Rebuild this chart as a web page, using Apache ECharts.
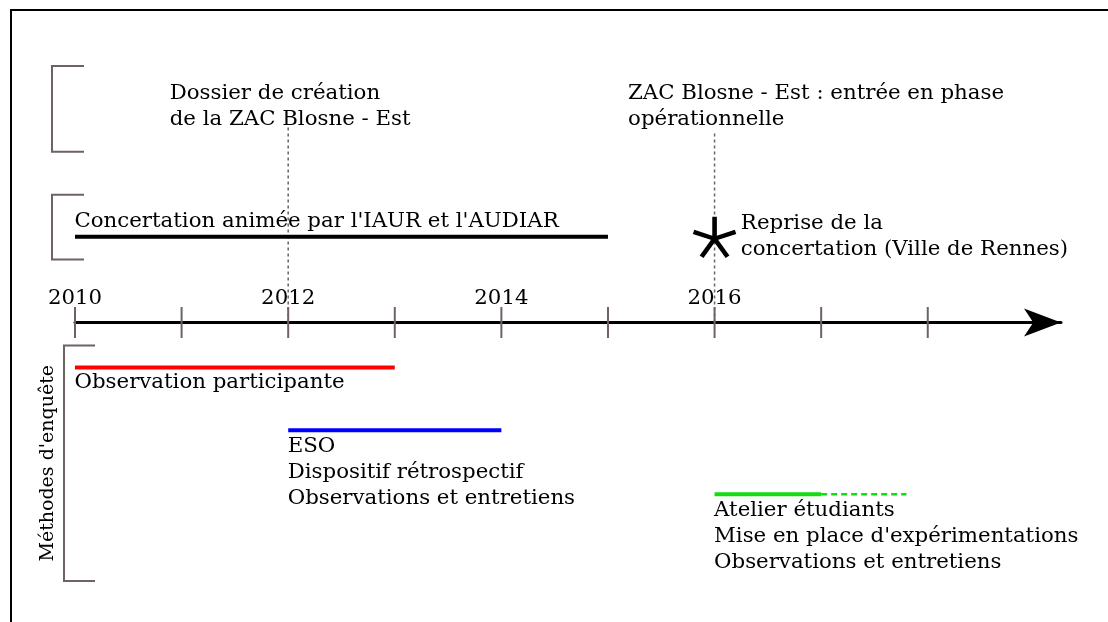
<!DOCTYPE html>
<html><head><meta charset="utf-8">
<script src="https://cdn.jsdelivr.net/npm/echarts@6/dist/echarts.min.js"></script>
<style>html,body{margin:0;padding:0;background:#fff}#c{width:1108px;height:622px}</style>
</head><body><div id="c"></div>
<script>
// ---- data ----
const tickYears = [2010, 2011, 2012, 2013, 2014, 2015, 2016, 2017, 2018];
const tickLabels = ['2010', '2012', '2014', '2016'];
const periodNames = [
  "Concertation animée par l'IAUR et l'AUDIAR",
  "Observation participante",
  "ESO\nDispositif rétrospectif\nObservations et entretiens",
  "Atelier étudiants\nMise en place d'expérimentations\nObservations et entretiens"
];
const periodStart = [2010, 2010, 2012, 2016];
const periodEnd = [2015, 2013, 2014, 2017];
const periodExtensionEnd = [null, null, null, 2017.8];
const eventYears = [2012, 2016];
const eventNames = ["Dossier de création\nde la ZAC Blosne - Est", "ZAC Blosne - Est : entrée en phase\nopérationnelle"];
const markerYears = [2016];
const markerNames = ["Reprise de la\nconcertation (Ville de Rennes)"];
const groupNames = ["", "", "Méthodes d'enquête"];

// ---- layout (vertical lanes, in axis units) & styles ----
const layout = {
  periodLane: [8.6, -4.5, -10.8, -17.2],
  eventTop: [19.7, 19.1],
  markerLane: [8.6],
  groupSpan: [[25.7, 17.1], [12.8, 6.3], [-2.3, -25.9]],
  groupDx: [[-23, 9], [-23, 9], [-11, 20]],
  periodLabelPos: [[0, -28], [0, 3], [0, 4], [0, 4]],
  eventLabelPos: [[-118, -45], [-86, -51]]
};
const periodColors = ['#000000', '#ff0000', '#0000ff', '#11dd11'];
const periodWidth = [4, 4, 4, 4];
const gray = '#6e6262';
const textColor = '#000000';
const font = 'DejaVu Serif';
const fs = 21.3;
const clear = { color: 'rgba(0,0,0,0)', opacity: 1 };

function starPath() {
  let d = '';
  for (let k = 0; k < 5; k++) {
    const a = -Math.PI / 2 + k * 2 * Math.PI / 5;
    d += 'M0 0 L' + (Math.cos(a) * 10).toFixed(3) + ' ' + (Math.sin(a) * 10).toFixed(3) + ' ';
  }
  return 'path://' + d;
}

const series = [];
// ticks
series.push({
  type: 'scatter', symbol: 'rect', symbolSize: [2, 31], z: 3, silent: true,
  itemStyle: { color: gray, opacity: 1 },
  data: tickYears.map(y => [y, 0])
});
// year labels
series.push({
  type: 'scatter', symbolSize: 1, itemStyle: clear, silent: true, z: 3,
  data: tickLabels.map(t => [Number(t), 0]),
  label: { show: true, formatter: p => tickLabels[p.dataIndex], position: 'top', distance: 13,
    fontFamily: font, fontSize: fs, color: textColor }
});
// event dotted lines + labels
eventYears.forEach((y, i) => {
  series.push({
    type: 'line', symbol: 'none', z: 2, silent: true,
    lineStyle: { color: gray, width: 1.5, type: [3, 3] },
    data: [[y, 0], [y, layout.eventTop[i]]]
  });
  series.push({
    type: 'scatter', symbolSize: 1, itemStyle: clear, silent: true,
    data: [{ value: [y, layout.eventTop[i]] }],
    label: { show: true, formatter: eventNames[i], position: layout.eventLabelPos[i], align: 'left', verticalAlign: 'top',
      fontFamily: font, fontSize: fs, lineHeight: 26, color: textColor }
  });
});
// periods
periodNames.forEach((n, i) => {
  const lane = layout.periodLane[i];
  series.push({
    type: 'line', symbol: 'none', z: 4, silent: true,
    lineStyle: { color: periodColors[i], width: periodWidth[i], cap: 'butt' },
    data: [[periodStart[i], lane], [periodEnd[i], lane]]
  });
  if (periodExtensionEnd[i] != null) {
    series.push({
      type: 'line', symbol: 'none', z: 4, silent: true,
      lineStyle: { color: periodColors[i], width: 2.5, type: [6, 4] },
      data: [[periodEnd[i], lane], [periodExtensionEnd[i], lane]]
    });
  }
  series.push({
    type: 'scatter', symbolSize: 1, itemStyle: clear, silent: true, z: 5,
    data: [{ value: [periodStart[i], lane] }],
    label: { show: true, formatter: n, position: layout.periodLabelPos[i], align: 'left', verticalAlign: 'top',
      fontFamily: font, fontSize: fs, lineHeight: 26, color: textColor }
  });
});
// marker (star)
series.push({
  type: 'scatter', symbol: starPath(), symbolSize: [42, 40], z: 6, silent: true,
  itemStyle: { color: 'rgba(0,0,0,0)', borderColor: '#000', borderWidth: 4.5, opacity: 1 },
  data: markerYears.map((y, i) => [y, layout.markerLane[i]]),
  label: { show: true, formatter: p => markerNames[p.dataIndex], position: 'right', distance: 3, offset: [0, 0],
    align: 'left', fontFamily: font, fontSize: fs, lineHeight: 26, color: textColor }
});
// group brackets
series.push({
  type: 'custom', silent: true, clip: false, z: 1,
  encode: { x: 0, y: [1, 2] },
  data: layout.groupSpan.map(s => [tickYears[0], s[0], s[1]]),
  renderItem: function (params, api) {
    const i = params.dataIndex;
    const t = api.coord([api.value(0), api.value(1)]);
    const b = api.coord([api.value(0), api.value(2)]);
    const x0 = t[0] + layout.groupDx[i][0], x1 = t[0] + layout.groupDx[i][1];
    const children = [{
      type: 'polyline',
      shape: { points: [[x1, t[1]], [x0, t[1]], [x0, b[1]], [x1, b[1]]] },
      style: { stroke: gray, lineWidth: 2, fill: null }
    }];
    if (groupNames[i]) {
      children.push({
        type: 'text', x: x0 - 16, y: (t[1] + b[1]) / 2, rotation: Math.PI / 2,
        style: { text: groupNames[i], fill: textColor, font: '19px "' + font + '"', align: 'center', verticalAlign: 'middle' }
      });
    }
    return { type: 'group', children: children };
  }
});

const chart = echarts.init(document.getElementById('c'), null, { renderer: 'canvas' });
chart.setOption({
  animation: false,
  backgroundColor: '#fff',
  grid: { left: 75, right: 47, top: 23, bottom: 0, containLabel: false, outerBoundsMode: 'none' },
  xAxis: {
    type: 'value', min: 2010, max: 2019.25, interval: 1,
    axisLine: { onZero: true, symbol: ['none', 'arrow'], symbolSize: [21, 37], lineStyle: { color: '#000', width: 3 } },
    axisTick: { show: false }, splitLine: { show: false }, axisLabel: { show: false }
  },
  yAxis: { type: 'value', min: -30, max: 30, show: false },
  graphic: [{ type: 'rect', shape: { x: 11, y: 10, width: 1200, height: 700 }, style: { fill: null, stroke: '#000', lineWidth: 2 }, z: 100 }],
  series: series
});
</script></body></html>
